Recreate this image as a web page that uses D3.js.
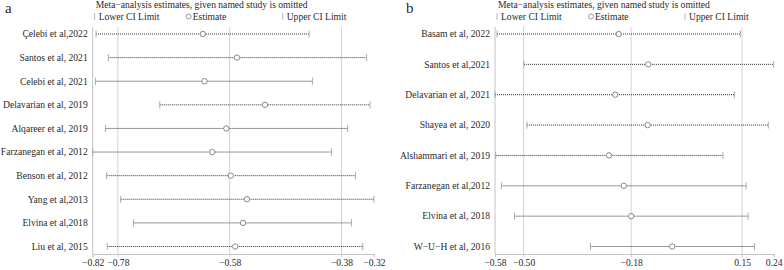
<!DOCTYPE html>
<html>
<head>
<meta charset="utf-8">
<script src="https://cdn.jsdelivr.net/npm/d3@7"></script>
<style>
  body { margin: 0; background: #fff; }
  svg text { font-family: "Liberation Serif", "Times New Roman", Times, serif; fill: #2a2a2a; }
</style>
</head>
<body>
<div id="chart"></div>
<script>
// panel a
const studiesA = ["Çelebi et al,2022", "Santos et al, 2021", "Celebi et al, 2021", "Delavarian et al, 2019",
  "Alqareer et al, 2019", "Farzanegan et al, 2012", "Benson et al, 2012", "Yang et al,2013",
  "Elvina et al,2018", "Liu et al, 2015"];
const estA = [-0.628, -0.567, -0.625, -0.517, -0.586, -0.611, -0.578, -0.549, -0.556, -0.570];
const lowerA = [-0.819, -0.797, -0.820, -0.705, -0.802, -0.825, -0.800, -0.775, -0.752, -0.799];
const upperA = [-0.438, -0.335, -0.432, -0.329, -0.369, -0.398, -0.355, -0.322, -0.362, -0.342];
const ticksA = [-0.825, -0.78, -0.58, -0.38, -0.322];
const tickLabelsA = ["−0.82", "−0.78", "−0.58", "−0.38", "−0.32"];
const gridA = [-0.78, -0.58, -0.38];

// panel b
const studiesB = ["Basam et al, 2022", "Santos et al,2021", "Delavarian et al, 2021", "Shayea et al, 2020",
  "Alshammari et al, 2019", "Farzanegan et al,2012", "Elvina et al, 2018", "W−U−H et al, 2016"];
const estB = [-0.217, -0.129, -0.227, -0.131, -0.246, -0.202, -0.180, -0.058];
const lowerB = [-0.579, -0.499, -0.585, -0.490, -0.583, -0.566, -0.527, -0.301];
const upperB = [0.145, 0.244, 0.127, 0.228, 0.093, 0.162, 0.168, 0.187];
const ticksB = [-0.585, -0.50, -0.18, 0.15, 0.244];
const tickLabelsB = ["−0.58", "−0.50", "−0.18", "0.15", "0.24"];
const gridB = [-0.50, -0.18, 0.15];

const width = 784, height = 270;
const svg = d3.select("#chart").append("svg")
  .attr("width", width)
  .attr("height", height);

drawPanel({ letter: "a", letterX: 5, studies: studiesA, est: estA, lower: lowerA, upper: upperA,
  ticks: ticksA, tickLabels: tickLabelsA, grid: gridA, x0: 92.7, x1: 373.9 });
drawPanel({ letter: "b", letterX: 406, studies: studiesB, est: estB, lower: lowerB, upper: upperB,
  ticks: ticksB, tickLabels: tickLabelsB, grid: gridB, x0: 495, x1: 773.7 });

function drawPanel({ letter, letterX, studies, est, lower, upper, ticks, tickLabels, grid, x0, x1 }) {
  const top = 27, bottom = 254;
  const x = d3.scaleLinear().domain([ticks[0], ticks[ticks.length - 1]]).range([x0, x1]);
  const y = d3.scalePoint().domain(studies).range([34, 246.5]);
  const rows = studies.map((s, i) => ({ s, est: est[i], lo: lower[i], hi: upper[i] }));

  const g = svg.append("g");

  g.append("text")
    .attr("x", letterX).attr("y", 13)
    .attr("font-size", 15)
    .text(letter);

  g.append("text")
    .attr("x", x0 + 3).attr("y", 8)
    .attr("font-size", 9.6)
    .text("Meta−analysis estimates, given named study is omitted");

  // legend
  const leg = g.append("g").attr("font-size", 9.6);
  [[x0 + 2, "Lower CI Limit"], [x0 + 190, "Upper CI Limit"]].forEach(([lx, t]) => {
    leg.append("line").attr("x1", lx).attr("x2", lx).attr("y1", 13).attr("y2", 20)
      .attr("stroke", "#bbb");
    leg.append("text").attr("x", lx + 4).attr("y", 19.5).text(t);
  });
  leg.append("circle").attr("cx", x0 + 96).attr("cy", 16.5).attr("r", 2.5)
    .attr("fill", "none").attr("stroke", "#999");
  leg.append("text").attr("x", x0 + 100).attr("y", 19.5).text("Estimate");

  // grid
  g.append("g").selectAll("line").data(grid).join("line")
    .attr("x1", d => x(d)).attr("x2", d => x(d))
    .attr("y1", top).attr("y2", bottom)
    .attr("stroke", "#d4d4d4");

  // axes
  g.append("line").attr("x1", x0).attr("x2", x0).attr("y1", top).attr("y2", bottom)
    .attr("stroke", "#c4c4c4");

  const axis = g.append("g")
    .attr("transform", `translate(0,${bottom})`)
    .call(d3.axisBottom(x).tickValues(ticks).tickSize(3).tickPadding(2)
      .tickFormat((d, i) => tickLabels[i]));
  axis.attr("font-family", null);
  axis.select(".domain").attr("stroke", "#c4c4c4");
  axis.selectAll(".tick line").attr("stroke", "#c4c4c4");
  axis.selectAll(".tick text").attr("font-size", 9.6).attr("fill", "#2a2a2a");

  // study labels
  g.append("g").selectAll("text").data(rows).join("text")
    .attr("x", x0 - 5).attr("y", d => y(d.s) + 3.3)
    .attr("text-anchor", "end")
    .attr("font-size", 9.6)
    .text(d => d.s);

  // CI lines
  g.append("g").selectAll("line").data(rows).join("line")
    .attr("x1", d => x(d.lo)).attr("x2", d => x(d.hi))
    .attr("y1", d => y(d.s)).attr("y2", d => y(d.s))
    .attr("stroke", "#333").attr("stroke-dasharray", "1,1");

  const caps = g.append("g").attr("stroke", "#aaa");
  rows.forEach(d => {
    [d.lo, d.hi].forEach(v => {
      caps.append("line")
        .attr("x1", x(v)).attr("x2", x(v))
        .attr("y1", y(d.s) - 3.5).attr("y2", y(d.s) + 3.5);
    });
  });

  g.append("g").selectAll("circle").data(rows).join("circle")
    .attr("cx", d => x(d.est)).attr("cy", d => y(d.s))
    .attr("r", 2.7)
    .attr("fill", "#fff").attr("stroke", "#888");
}
</script>
</body>
</html>
